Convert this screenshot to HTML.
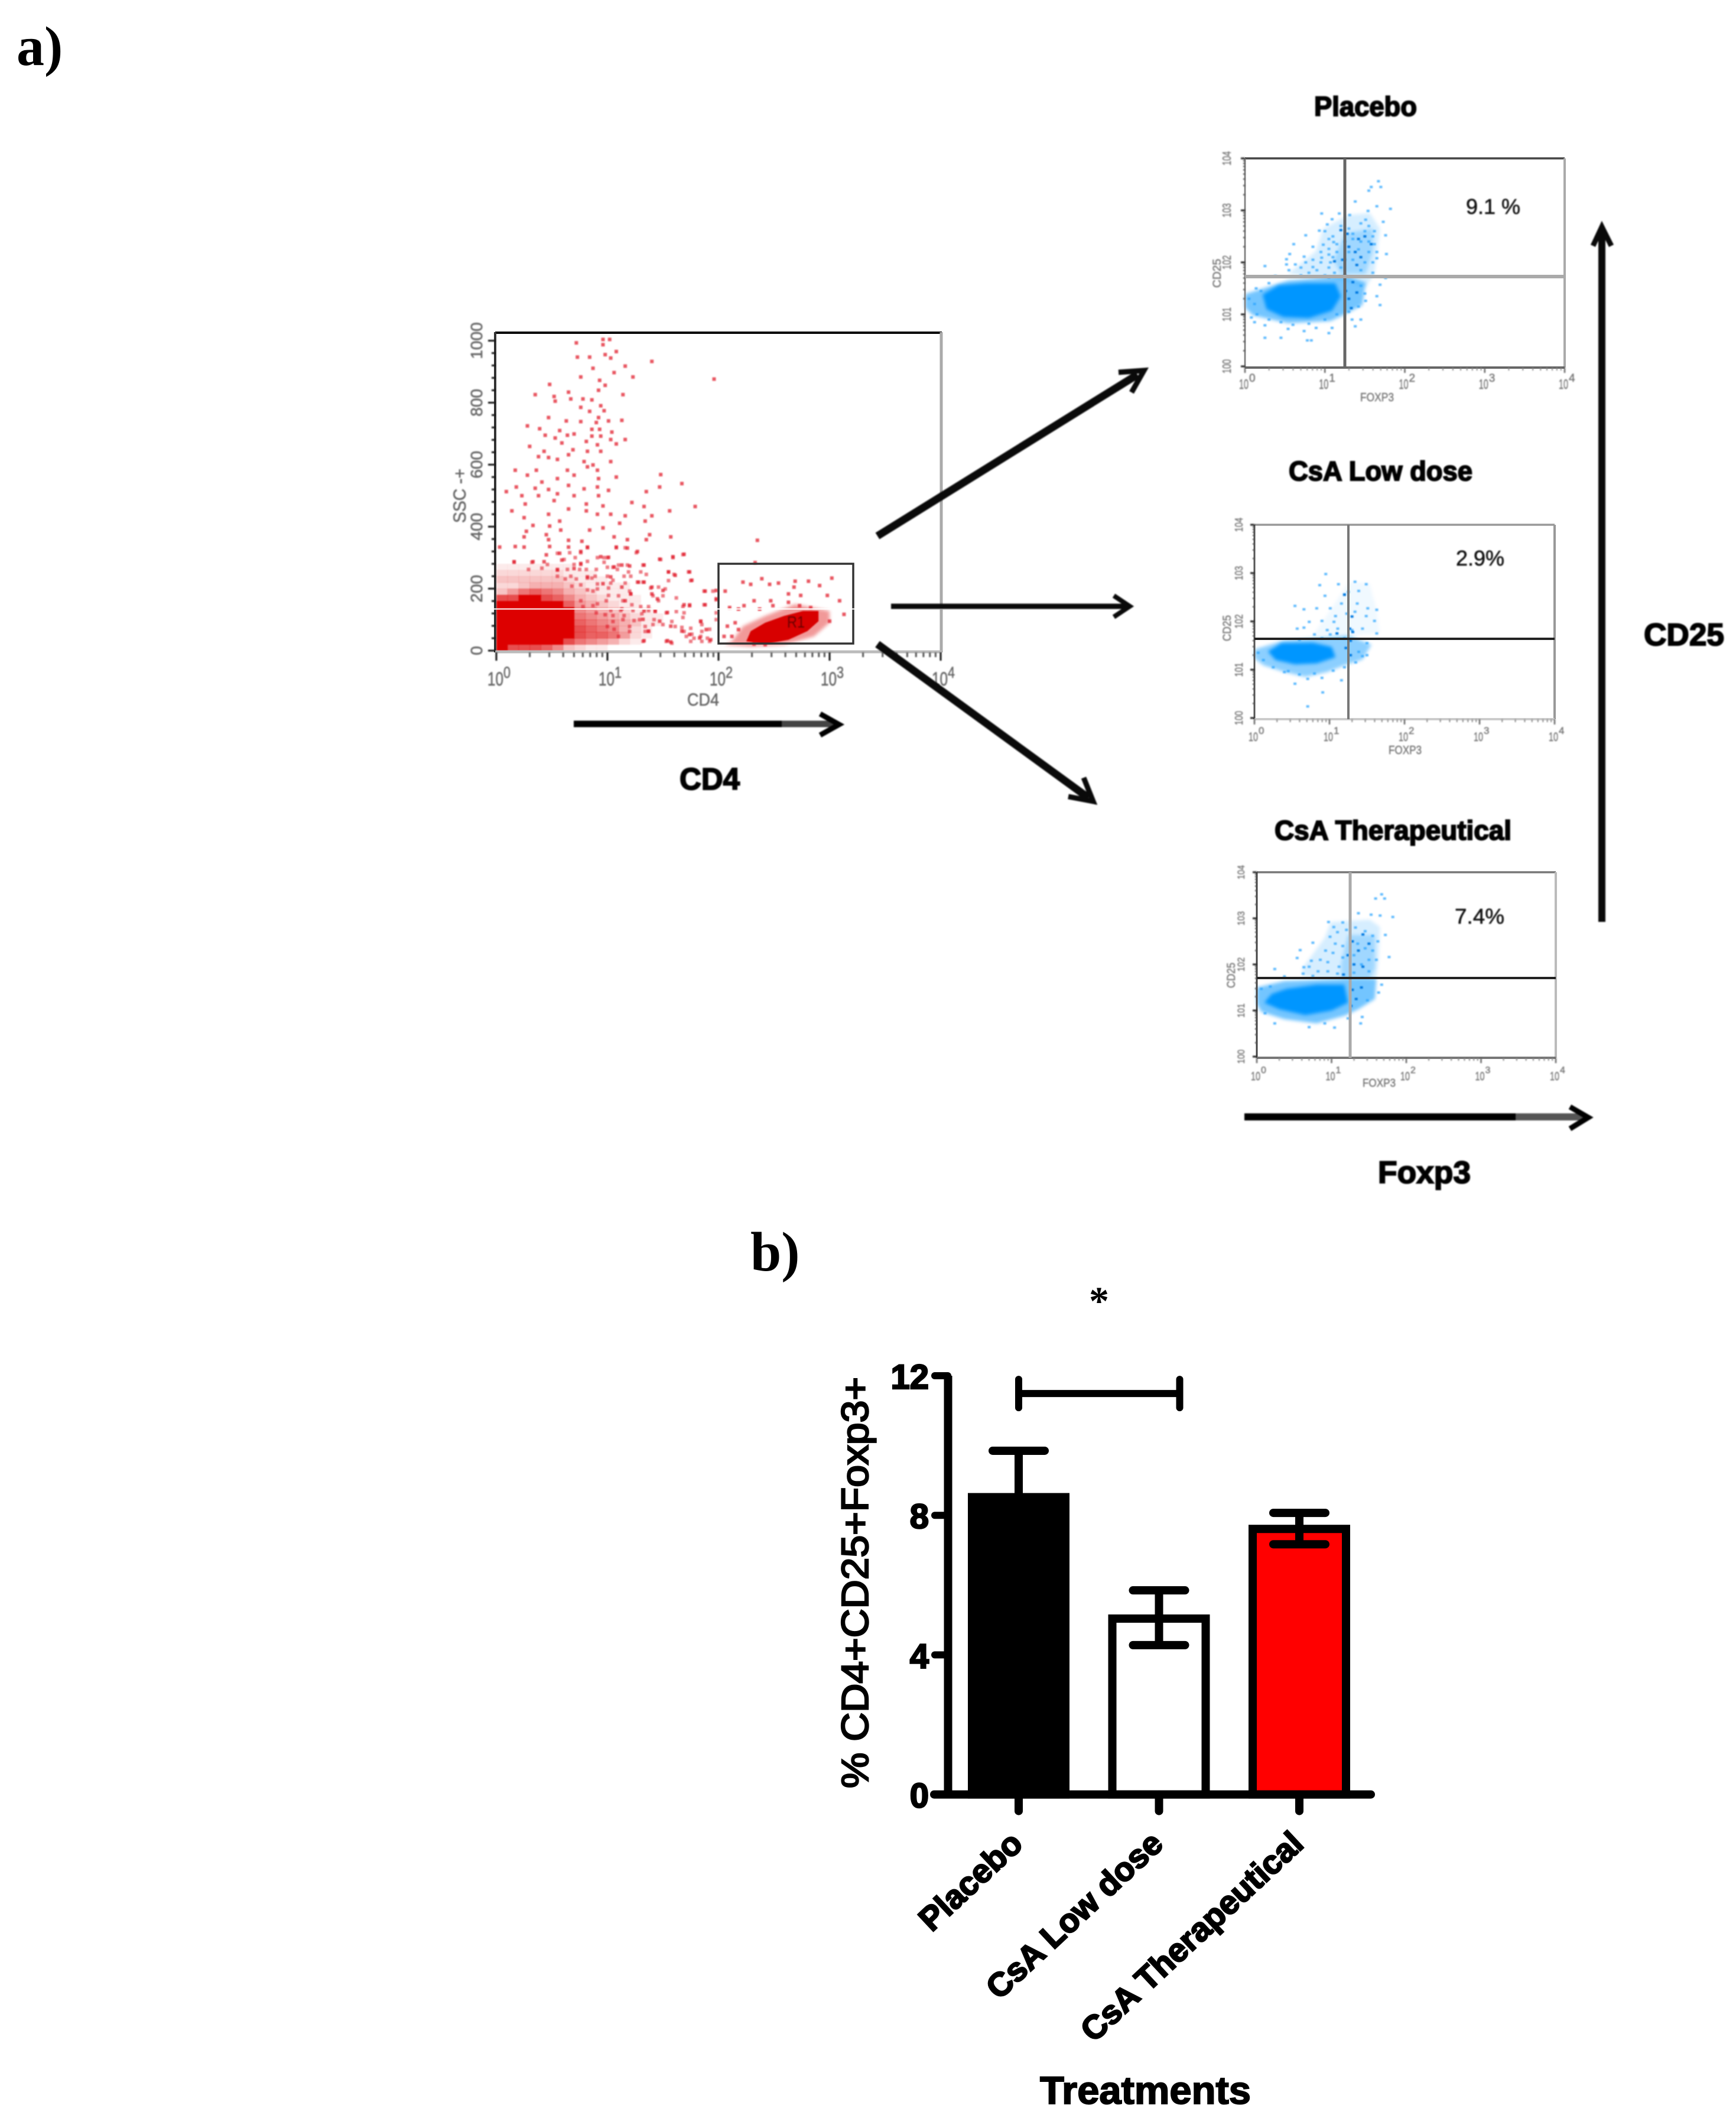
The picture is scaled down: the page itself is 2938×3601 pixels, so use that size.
<!DOCTYPE html>
<html lang="en">
<head>
<meta charset="utf-8">
<title>Treg flow cytometry and bar chart</title>
<style>
html,body{margin:0;padding:0;background:#fff}
svg{display:block}
text{font-family:"Liberation Sans",Arial,sans-serif}
.serif{font-family:"Liberation Serif","Times New Roman",serif;font-weight:700}
.soft{filter:blur(1px)}
.softer{filter:blur(3px)}
</style>
</head>
<body>
<svg id="figure" xmlns="http://www.w3.org/2000/svg" width="2938" height="3601" viewBox="0 0 2938 3601">
  <rect x="0" y="0" width="2938" height="3601" fill="#fff"/>
  <text class="serif" x="28" y="110" font-size="94">a)</text>
  <text class="serif" x="1270" y="2150" font-size="94">b)</text>

  <g id="flow-layer"></g>

  <g class="soft">
    <g fill="none" stroke="#0a0a0a" stroke-width="13">
      <path d="M1485 907L1925 634"/><path d="M1893 630L1936 627L1915 664" stroke-width="9"/>
    </g>
    <g fill="none" stroke="#0a0a0a" stroke-width="9">
      <path d="M1508 1026H1905"/><path d="M1885 1008L1912 1026L1885 1044" stroke-width="8"/>
    </g>
    <g fill="none" stroke="#0a0a0a" stroke-width="13">
      <path d="M1485 1090L1842 1350"/><path d="M1808 1348L1850 1356L1834 1316" stroke-width="9"/>
    </g>
    <g fill="none">
      <path d="M971 1225H1323" stroke="#000" stroke-width="11"/>
      <path d="M1323 1225H1415" stroke="#444" stroke-width="11"/>
      <path d="M1388 1208L1420 1226L1388 1244" stroke="#000" stroke-width="9"/>
    </g>
    <g fill="none">
      <path d="M2106 1890H2565" stroke="#000" stroke-width="12"/>
      <path d="M2565 1890H2680" stroke="#555" stroke-width="12"/>
      <path d="M2657 1873L2688 1891L2657 1910" stroke="#000" stroke-width="9"/>
    </g>
    <g fill="none">
      <path d="M2711 1560V392" stroke="#0a0a0a" stroke-width="12"/>
      <path d="M2696 416L2711 384L2727 416" stroke="#0a0a0a" stroke-width="9"/>
    </g>
  </g>

  <g class="soft" font-weight="700" fill="#000" stroke="#000" stroke-width="2">
    <text x="1150" y="1336" font-size="52" textLength="102" lengthAdjust="spacingAndGlyphs">CD4</text>
    <text x="2224" y="196" font-size="46" textLength="174" lengthAdjust="spacingAndGlyphs">Placebo</text>
    <text x="2181" y="813" font-size="46" textLength="311" lengthAdjust="spacingAndGlyphs">CsA Low dose</text>
    <text x="2157" y="1421" font-size="46" textLength="401" lengthAdjust="spacingAndGlyphs">CsA Therapeutical</text>
    <text x="2332" y="2002" font-size="53" textLength="157" lengthAdjust="spacingAndGlyphs">Foxp3</text>
    <text x="2782" y="1092" font-size="53" textLength="136" lengthAdjust="spacingAndGlyphs">CD25</text>
  </g>

  <g id="bar-layer"></g>
</svg>

<script>
/* ---------- Bar chart data ---------- */
const barCategories = ["Placebo", "CsA Low dose", "CsA Therapeutical"];
const barMeans = [8.52, 5.04, 7.61];
const barErrorHigh = [9.85, 5.85, 8.07];
const barErrorLow = [7.2, 4.28, 7.17];
const barTickValues = [0, 4, 8, 12];
const bracketLevel = [11.49];
const bracketGroups = [0, 1];

/* ---------- Red dot plot data (CD4 decades, SSC units) ---------- */
const cd4TickExponents = ["0", "1", "2", "3", "4"];
const sscTickLabels = [0, 200, 400, 600, 800, 1000];
const ssPercent = ["9.1 %", "2.9%", "7.4%"];

/* Density read per cell: columns 0.1 decade wide, rows 20 SSC tall, top row = 260-280 */
const sscDensityRows = [
  [1,1,1,1,1,1,1,0,0,0,0,0,0,0,0,0],
  [2,2,2,2,2,2,1,1,1,0,0,0,0,0,0,0],
  [3,3,3,3,3,3,2,1,1,1,0,0,0,0,0,0],
  [2,2,3,4,4,4,3,2,1,1,1,1,0,0,0,0],
  [3,5,7,8,7,6,4,3,2,1,1,1,0,0,0,0],
  [9,9,10,10,9,8,6,4,3,2,1,1,1,0,0,0],
  [10,10,10,10,10,10,8,5,4,3,2,1,1,0,0,0],
  [10,10,10,10,10,10,10,6,5,4,3,2,1,1,0,0],
  [10,10,10,10,10,10,10,7,6,5,4,3,2,1,1,0],
  [10,10,10,10,10,10,10,8,7,6,5,4,3,1,1,0],
  [10,10,10,10,10,10,10,9,8,7,6,4,2,1,0,0],
  [10,10,10,10,10,10,10,9,8,8,7,5,2,1,0,0],
  [10,10,10,10,10,10,9,7,6,5,4,2,1,0,0,0],
  [10,9,9,9,8,6,3,2,1,1,0,0,0,0,0,0]
];

const gateCoreOutline = [[2.25,30],[2.29,63],[2.42,90],[2.59,112],[2.76,128],[2.90,128],[2.90,95],[2.80,63],[2.63,35],[2.42,21]];
const gateHaloOutline = [[2.12,30],[2.22,79],[2.42,112],[2.69,150],[3.0,128],[3.0,90],[2.86,46],[2.59,19],[2.29,13],[2.05,19]];

const sscScatterPoints = [
[.72,993],[.96,1004],[1.02,1004],[.96,987],[1.08,965],[1.03,944],[.98,955],[.73,947],[.84,947],[1.40,933],[1.16,918],[.87,911],[1.06,897],[1.23,883],[.76,883],[1.96,876],
[.93,872],[.98,856],[.48,859],[.92,840],[.65,834],[.35,826],[1.14,826],[.52,820],[.53,805],[.67,812],[.78,812],[.86,809],[.76,785],[.94,790],[.97,774],[.84,772],[.47,752],[.92,752],[.63,741],[.90,736],[1.01,741],[1.13,743],[.76,739],[.28,725],[.86,714],[.93,714],[.39,716],[.57,710],[.70,699],[1.04,705],[.44,695],[.53,686],[.64,695],[.86,692],[.94,692],[1.03,681],[1.16,681],[.59,670],[.30,659],[.81,675],[.91,664],[1.08,667],[.43,643],[.69,648],[.82,643],[.94,643],[.38,626],[.55,617],[.65,632],[.47,623],[.79,610],[.87,599],[1.03,610],[.17,582],[.36,582],[.64,582],[.91,582],[.82,593],[.28,566],[.55,555],[.70,566],[1.08,560],[1.48,568],[.41,544],[.92,555],[1.67,539],[.09,513],[.35,524],[.65,533],[.91,528],[1.47,528],[.18,528],[.23,500],[.47,520],[.79,522],[1.01,517],[1.35,513],[.38,500],[.55,506],[.70,500],[.92,500],[.26,473],[.52,484],[.81,473],[.96,467],[1.22,478],[1.79,465],[1.33,465],[.14,451],[.47,440],[.65,457],[.81,451],[1.03,440],[.91,440],[1.56,451],[1.40,435],[.25,429],[.57,418],[1.16,435],[1.34,418],[1.11,411],[.33,404],[.48,402],[.96,396],[.84,389],[.58,389],[.27,385],[.45,374],[.25,367],[1.06,367],[1.38,374],[1.57,367],[.47,358],[.65,356],[.77,353],[1.18,358],[1.35,358],[2.35,356],[.03,334],[.17,336],[.25,334],[.48,336],[.65,334],[.82,334],[1.08,334],[1.18,331],[.57,314],[.45,309],[.76,320],[1.27,320],[1.69,311],[1.59,303],[.94,303],[1.01,301],[1.47,295],[.16,287],[.33,287],[.43,287],[.59,292],[.76,281],[1.33,276],[2.33,284],[.55,260],[.70,265],[1.06,270],[1.13,276],[1.20,273],[1.03,238],[.82,238],[1.55,254],[1.61,243],[1.74,254],[1.76,227],[1.28,221],[1.33,221],[.96,216],[1.13,205],[1.40,205],[1.50,194],[1.21,183],[1.40,183],[1.16,161],[1.45,167],[1.88,192],[1.98,194],[2.06,192],[1.69,148],[1.88,148],[1.98,167],[1.33,128],[1.43,128],[1.54,123],[1.74,145],[1.32,101],[1.47,95],[1.57,79],[1.67,63],[1.74,52],[1.84,95],[1.89,68],[1.37,63],[1.33,32],[1.54,32],[1.57,28],[1.83,41],[1.93,35],
[2.22,221],[2.29,214],[2.39,232],[2.46,214],[2.54,218],[2.69,224],[2.81,224],[2.91,210],[3.02,234],[2.68,205],[2.63,183],[2.47,161],[2.32,161],[2.23,145],[2.74,178],[2.98,178],[3.09,161],[3.13,117],[2.10,139],[2.18,134],[2.37,134],[2.49,145],[2.63,156],[2.73,145],[2.83,139],[2.15,90],[2.18,68],[2.08,79],[2.05,46],[2.12,46],[2.32,21],[2.42,19],[3.0,95]
];

const sscLowSpecklePoints = [
[.16,285],[.32,285],[.55,314],[.66,316],[.76,316],[.82,332],[1.16,332],[1.26,316],[1.08,332],[.91,300],[.97,300],[1.0,300],[.61,294],[.71,300],[.76,278],[.82,288],[.97,285],[.46,278],[.70,278],[1.1,276],[1.18,276],[1.32,276],[1.48,294],[1.59,300],[1.68,310],[1.0,269],[1.05,269],[.55,262],[.41,266],[.29,262],[.64,262],[.90,262],[.81,262],[.75,262],[1.09,262],[1.30,254],[1.19,254],[1.55,254],[1.60,246],[1.73,254],[1.35,246],[1.0,240],[1.05,227],[1.15,240],[1.21,240],[.89,240],[.82,234],[.86,234],[.72,231],[.67,240],[.62,231],[.55,240],[1.27,221],[1.32,221],[1.55,226],[1.75,226],[1.03,218],[1.16,218],[.91,215],[1.01,202],[.76,212],[.68,208],[.82,196],[.87,192],[.91,199],[1.39,202],[1.46,205],[1.52,199],[1.20,192],[1.87,192],[1.95,192],[1.1,177],[1.01,178],[1.21,183],[1.41,177],[1.5,177],[1.62,170],[1.14,161],[1.46,161],[1.98,164],[.99,161],[.91,151],[.76,161],[.87,145],[.78,142],[1.74,148],[1.87,148],[1.68,142],[1.30,142],[1.37,142],[1.22,148],[1.13,135],[1.03,129],[1.12,129],[1.23,129],[1.37,129],[1.43,126],[1.53,122],[1.62,126],[1.69,122],[1.98,122],[1.31,119],[.90,122],[.98,116],[1.05,113],[1.15,113],[1.29,100],[1.24,97],[1.42,100],[1.68,107],[1.58,94],[1.84,94],[1.98,100],[1.05,94],[1.14,100],[1.5,84],[1.41,84],[1.85,84],[1.0,78],[1.06,69],[1.2,78],[1.34,78],[1.61,78],[1.67,75],[1.75,72],[1.92,69],[1.85,62],[1.69,62],[1.34,62],[1.37,62],[1.1,46],[1.2,62],[1.76,53],[1.71,46],[1.84,46],[1.9,40],[1.78,40],[1.75,30],[1.32,30],[1.53,30],[1.58,24],[1.85,30],[1.92,30]
];

/* ---------- Blue dot plot data (FOXP3 decade, CD25 decade) ---------- */
const placeboCore = [[.22,1.38],[.42,1.56],[.76,1.6],[1.13,1.6],[1.2,1.35],[1.09,1.07],[.80,.93],[.48,.95],[.27,1.1]];
const placeboLowerHalo = [[0,1.39],[.27,1.52],[.54,1.65],[1.25,1.74],[1.51,1.61],[1.47,1.18],[1.25,1.0],[1.07,.87],[.54,.83],[.10,.98],[0,1.13]];
const placeboWing = [[.54,1.78],[.89,2.22],[.98,2.65],[1.29,2.91],[1.56,2.95],[1.69,2.65],[1.62,1.78],[1.51,1.52],[1.25,1.65]];
const placeboInnerWing = [[1.11,2.04],[1.25,2.56],[1.60,2.65],[1.60,2.22],[1.51,1.78],[1.20,1.78]];
const placeboPoints = [
[1.67,3.56],[1.58,3.45],[1.70,3.45],[1.55,3.38],[1.38,3.17],[1.82,3.03],[1.65,3.08],[1.54,2.99],[.96,2.94],[1.18,2.94],[1.31,2.91],[1.73,2.78],[1.51,2.82],[1.09,2.83],[1.03,2.73],[.93,2.61],[.76,2.52],[1.76,2.52],[.61,2.35],[.85,2.30],[1.77,2.16],[.56,2.16],[.74,2.11],[.52,2.06],[1.65,2.08],[.52,1.96],[.25,1.93],[.63,1.96],[.76,2.0],[.98,2.34],[1.11,2.39],[1.05,2.26],[.96,2.09],[.85,1.91],[1.07,2.0],[1.76,1.70],[1.69,1.57],[1.65,1.35],[1.69,1.18],[1.51,1.26],[1.38,.77],[1.45,.90],[1.34,.90],[1.09,.74],[1.05,.64],[.89,.74],[.74,.68],[.54,.72],[.45,.55],[.25,.79],[.25,.55],[.12,.85],[.83,.50],[.78,.50],[.08,.94],[.14,1.5],[.38,1.74],
[1.0,2.6],[1.1,2.5],[1.05,2.45],[1.2,2.7],[1.3,2.65],[1.45,2.75],[1.55,2.7],[1.62,2.6],[1.35,2.55],[1.5,2.6],[1.6,2.5],[1.15,2.35],[1.25,2.4],[1.35,2.45],[1.45,2.4],[1.55,2.4],[1.62,2.35],[.95,2.2],[1.05,2.15],[1.15,2.2],[1.3,2.2],[1.42,2.25],[1.55,2.2],[1.65,2.2],[.85,2.05],[.95,2.0],[1.1,2.1],[1.25,2.05],[1.35,2.05],[1.5,2.0],[1.6,2.0],[.7,1.9],[.9,1.85],[1.05,1.9],[1.2,1.9],[1.45,1.85],[1.6,1.8],[.55,1.85],[.7,1.75],[.8,1.8],[1.0,1.75],[1.12,1.8],[.05,1.3],[.12,1.2],[.2,1.45],[.3,1.6],[.15,1.0],[.3,.9],[.45,.85],[.6,.8],[.8,.82],[1.0,.9],[1.15,1.0],[1.3,1.05],[1.42,1.15],[1.5,1.4],[1.45,1.55]
];
const placeboDarkPoints = [[1.28,2.55],[1.42,2.45],[1.30,2.30],[1.50,2.50],[1.38,2.20],[1.22,2.05],[1.12,2.02],[1.40,1.95],[1.25,1.75],[1.05,1.72],[1.35,1.62],[1.30,1.30],[1.33,1.12],[1.26,1.45],[1.40,1.42],[1.45,2.10],[1.20,2.62],[1.58,2.35]];

const lowCore = [[.18,1.38],[.36,1.55],[.78,1.56],[1.03,1.47],[1.08,1.26],[.83,1.13],[.54,1.11],[.28,1.2]];
const lowHalo = [[0,1.42],[.40,1.61],[1.25,1.71],[1.56,1.52],[1.44,1.21],[1.20,1.09],[.97,.95],[.68,.85],[.40,.95],[.12,1.09],[0,1.23]];
const lowWing = [[.78,1.71],[1.01,2.23],[1.25,2.80],[1.53,2.80],[1.63,2.23],[1.67,1.75],[1.25,1.71]];
const lowPoints = [
[.95,2.98],[1.49,2.77],[1.12,2.77],[.87,2.75],[1.34,2.82],[1.39,2.63],[1.20,2.56],[.94,2.53],[1.25,2.61],[.54,2.32],[.66,2.25],[.83,2.27],[1.01,2.27],[1.16,2.37],[1.37,2.37],[1.51,2.27],[1.63,2.24],[1.34,2.20],[1.08,2.11],[1.23,2.16],[1.49,2.11],[.90,2.01],[1.06,1.99],[.73,1.99],[1.60,2.01],[.66,1.87],[.57,1.85],[.97,1.82],[1.11,1.85],[1.30,1.82],[1.44,1.85],[1.63,1.75],[.80,1.73],[1.01,1.73],[1.44,1.28],[1.39,1.37],[.54,.71],[.71,.81],[.90,.83],[1.16,.78],[.91,.53],[.71,.24],[.45,.97],
[.05,1.35],[.12,1.2],[.25,1.05],[.4,.95],[.6,.9],[.8,.92],[1.05,.98],[1.2,1.05],[1.35,1.15],[1.5,1.3],[1.5,1.55],[1.2,1.65],[.9,1.65],[.6,1.62]
];
const lowDarkPoints = [[1.27,1.85],[1.31,1.78],[1.10,1.75],[1.28,1.6],[1.22,1.45],[1.28,1.3],[1.20,2.55],[1.30,2.1]];

const theraCore = [[.2,1.36],[.4,1.47],[.80,1.56],[1.17,1.56],[1.22,1.17],[1.0,1.0],[.65,.9],[.3,1.03],[.1,1.17]];
const theraLowerHalo = [[0,1.50],[.37,1.64],[1.22,1.69],[1.60,1.69],[1.58,1.25],[1.36,1.03],[1.18,.89],[.80,.72],[.37,.81],[.06,.97],[0,1.14]];
const theraWing = [[.61,1.92],[.91,2.58],[.99,2.92],[1.51,2.97],[1.65,2.81],[1.63,2.14],[1.60,1.69],[.89,1.69],[.61,1.75]];
const theraInnerWing = [[1.13,2.03],[1.22,2.64],[1.58,2.64],[1.58,1.92],[1.51,1.69],[1.13,1.69]];
const theraPoints = [
[1.67,3.52],[1.59,3.43],[1.71,3.43],[1.82,3.03],[1.65,3.06],[.96,2.92],[1.15,2.91],[1.36,3.11],[1.53,3.08],[1.03,2.81],[1.72,2.64],[.75,2.47],[1.77,2.16],[.58,2.31],[.54,2.14],[.73,2.08],[.63,1.94],[.24,1.90],[.37,1.74],[1.67,1.56],[1.63,1.39],[1.48,1.22],[1.41,.86],[1.39,.72],[1.22,.83],[1.04,.63],[.70,.64],[.91,.72],[.24,.72],[.11,.94],[.06,1.47],[.18,1.52],
[.98,2.6],[1.08,2.7],[1.2,2.75],[1.32,2.8],[1.45,2.72],[1.55,2.62],[1.62,2.5],[1.05,2.45],[1.15,2.4],[1.35,2.45],[1.45,2.35],[1.55,2.3],[.92,2.3],[1.02,2.25],[1.15,2.15],[1.3,2.2],[1.5,2.1],[1.6,2.1],[.85,2.1],[.95,2.05],[1.1,1.95],[1.4,2.0],[.7,1.95],[.82,1.85],[.95,1.85],[1.08,1.8],[1.3,1.82],[1.5,1.85],[.62,1.8],[.75,1.75]
];
const theraDarkPoints = [[1.28,2.5],[1.42,2.65],[1.36,2.3],[1.50,2.45],[1.22,2.2],[1.30,2.0],[1.42,1.95],[1.28,1.45],[1.33,1.25],[1.26,1.1],[1.40,1.5],[1.16,1.78]];

/* ---------- Helpers ---------- */
const NS = "http://www.w3.org/2000/svg";
function make(tag, parent, attrs) {
  const node = document.createElementNS(NS, tag);
  for (const key in attrs) node.setAttribute(key, attrs[key]);
  parent.appendChild(node);
  return node;
}
function outlinePath(outline, xFn, yFn) {
  return "M" + outline.map(p => xFn(p[0]).toFixed(1) + " " + yFn(p[1]).toFixed(1)).join("L") + "Z";
}

/* ---------- Red SSC / CD4 dot plot ---------- */
(function drawRedPlot() {
  const flowLayer = document.getElementById("flow-layer");
  const plot = make("g", flowLayer, {});
  
  
  const xAt = d => 840 + 188 * d;
  const yAt = v => 1101 - 0.5245 * v;

  const marks = make("g", plot, {class: "soft"});
  
  

  sscDensityRows.forEach((row, r) => {
    row.forEach((value, c) => {
      if (!value) return;
      const top = 280 - r * 20;
      const cell = make("rect", marks, {
        x: xAt(c * 0.1).toFixed(1), y: yAt(top).toFixed(1),
        width: (xAt(0.1) - xAt(0) + 0.5).toFixed(1),
        height: (yAt(0) - yAt(20) + 0.5).toFixed(1),
        fill: "#dd0000", opacity: value >= 10 ? 1 : value / 13
      });
      
      
    });
  });
  const halo = make("path", marks, {d: outlinePath(gateHaloOutline, xAt, yAt), fill: "#dd0000", opacity: .4, class: "softer"});
  
  
  const core = make("path", marks, {d: outlinePath(gateCoreOutline, xAt, yAt), fill: "#d80000"});
  
  
  sscLowSpecklePoints.forEach(p => {
    const dot = make("rect", marks, {x: (xAt(p[0]) - 3).toFixed(1), y: (yAt(p[1]) - 3).toFixed(1), width: 6, height: 6, fill: "#e01020", opacity: .55});
    
    
  });
  sscScatterPoints.forEach(p => {
    const dot = make("rect", marks, {x: (xAt(p[0]) - 3).toFixed(1), y: (yAt(p[1]) - 3).toFixed(1), width: 6, height: 6, fill: "#e01020", opacity: .7});
    
    
  });

  const frame = make("g", plot, {fill: "none"});
  
  
  make("path", frame, {d: "M838 563H1594", stroke: "#000", "stroke-width": 4});
  make("path", frame, {d: "M838 562V1104", stroke: "#333", "stroke-width": 4});
  make("path", frame, {d: "M1593 562V1104", stroke: "#aaa", "stroke-width": 5});
  make("path", frame, {d: "M838 1103H1594", stroke: "#bbb", "stroke-width": 5});

  const ticks = make("g", plot, {stroke: "#111", class: "soft"});
  
  
  for (let v = 0; v <= 1000; v += 40) {
    const major = v % 200 === 0;
    make("line", ticks, {x1: major ? 826 : 832, x2: 838, y1: yAt(v), y2: yAt(v), "stroke-width": 3});
  }
  cd4TickExponents.forEach((exp, d) => {
    make("line", ticks, {x1: xAt(d), x2: xAt(d), y1: 1104, y2: 1118, "stroke-width": 3});
    if (d < 4) {
      for (let m = 2; m < 10; m++) {
        const lx = xAt(d + Math.log10(m));
        make("line", ticks, {x1: lx, x2: lx, y1: 1104, y2: 1112, stroke: "#555", "stroke-width": 3});
      }
    }
  });

  const labels = make("g", plot, {fill: "#666", stroke: "#666", "stroke-width": .6, class: "soft"});
  
  
  cd4TickExponents.forEach((exp, d) => {
    const base = make("text", labels, {x: xAt(d) - 15, y: 1160, "font-size": 32, textLength: 27, lengthAdjust: "spacingAndGlyphs"});
    
    
    base.textContent = "10";
    const sup = make("text", labels, {x: xAt(d) + 12, y: 1147, "font-size": 27, textLength: 12, lengthAdjust: "spacingAndGlyphs"});
    
    
    sup.textContent = exp;
  });
  sscTickLabels.forEach(v => {
    const t = make("text", labels, {"font-size": 28, "text-anchor": "middle", transform: `translate(816 ${yAt(v)}) rotate(-90)`});
    
    
    t.textContent = v;
  });
  const xTitle = make("text", labels, {x: 1163, y: 1194, "font-size": 30, textLength: 54, lengthAdjust: "spacingAndGlyphs"});
  
  
  xTitle.textContent = "CD4";
  const yTitle = make("text", labels, {"font-size": 30, transform: "translate(788 885) rotate(-90)", textLength: 92, lengthAdjust: "spacingAndGlyphs"});
  
  
  yTitle.textContent = "SSC -+";

  const gate = make("rect", plot, {x: 1216, y: 954, width: 228, height: 135, fill: "none", stroke: "#333", "stroke-width": 3.5});
  
  
  const gateLabel = make("text", plot, {x: 1332, y: 1062, "font-size": 28, fill: "#6a0000", class: "soft", textLength: 30, lengthAdjust: "spacingAndGlyphs"});
  
  
  gateLabel.textContent = "R1";
  const hairline = make("line", plot, {x1: 834, x2: 1600, y1: 1030.5, y2: 1030.5, stroke: "#fff", "stroke-width": 2});
  
  
})();

/* ---------- Blue quadrant plots ---------- */
const bluePanels = [
  {name: "placebo", left: 2107, right: 2648, top: 268, bottom: 622, vx: 2276, hy: 468,
   core: placeboCore, halos: [[placeboLowerHalo, .55], [placeboWing, .16], [placeboInnerWing, .25]], points: placeboPoints, dark: placeboDarkPoints,
   pct: 0, pctX: 2481, pctW: 92, pctY: 362, pctSize: 36, frame: ["#444", "#888", "#aaa", "#666"], v: ["#666", 5], h: ["#aaa", 6],
   tickY: 652, titleX: 2302, titleY: 679, titleW: 57, titleSize: 20, ytitle: "CD25", yTitleX: 2066, yTitleY: 487, yTitleH: 49, tickSize: 23, yLabelX: 2083},
  {name: "low-dose", left: 2123, right: 2631, top: 888, bottom: 1217, vx: 2282, hy: 1081,
   core: lowCore, halos: [[lowHalo, .45], [lowWing, .06]], points: lowPoints, dark: lowDarkPoints,
   pct: 1, pctX: 2464, pctW: 82, pctY: 957, pctSize: 36, frame: ["#999", "#555", "#999", "#ccc"], v: ["#777", 4], h: ["#222", 4],
   tickY: 1248, titleX: 2350, titleY: 1276, titleW: 56, titleSize: 20, ytitle: "CD25", yTitleX: 2083, yTitleY: 1085, yTitleH: 44, tickSize: 21, yLabelX: 2103},
  {name: "therapeutical", left: 2127, right: 2633, top: 1476, bottom: 1790, vx: 2285, hy: 1655,
   core: theraCore, halos: [[theraLowerHalo, .55], [theraWing, .16], [theraInnerWing, .25]], points: theraPoints, dark: theraDarkPoints,
   pct: 2, pctX: 2462, pctW: 84, pctY: 1563, pctSize: 36, frame: ["#777", "#444", "#bbb", "#777"], v: ["#aaa", 5], h: ["#222", 4],
   tickY: 1822, titleX: 2306, titleY: 1839, titleW: 56, titleSize: 19, ytitle: "CD25", yTitleX: 2090, yTitleY: 1672, yTitleH: 43, tickSize: 20, yLabelX: 2106}
];
const blueDecades = ["0", "1", "2", "3", "4"];

bluePanels.forEach(panel => {
  const flowLayer = document.getElementById("flow-layer");
  const plot = make("g", flowLayer, {});
  
  
  const xAt = d => panel.left + d * (panel.right - panel.left) / 4;
  const yAt = d => panel.bottom - 2 - d * (panel.bottom - 2 - panel.top) / 4;

  const marks = make("g", plot, {class: "soft"});
  
  
  panel.halos.forEach(item => {
    const h = make("path", marks, {d: outlinePath(item[0], xAt, yAt), fill: "#0096ff", opacity: item[1], class: "softer"});
    
    
  });
  const core = make("path", marks, {d: outlinePath(panel.core, xAt, yAt), fill: "#0096ff", class: "softer"});
  
  
  panel.points.forEach(p => {
    const dot = make("rect", marks, {x: (xAt(p[0]) - 2.5).toFixed(1), y: (yAt(p[1]) - 2).toFixed(1), width: 5, height: 4, fill: "#2aa4ff", opacity: .75});
    
    
  });
  panel.dark.forEach(p => {
    const dot = make("rect", marks, {x: (xAt(p[0]) - 2.5).toFixed(1), y: (yAt(p[1]) - 2).toFixed(1), width: 5, height: 4, fill: "#0078e0"});
    
    
  });

  const frame = make("g", plot, {fill: "none"});
  
  
  make("line", frame, {x1: panel.left, x2: panel.right, y1: panel.top, y2: panel.top, stroke: panel.frame[0], "stroke-width": 3.5});
  make("line", frame, {x1: panel.left, x2: panel.left, y1: panel.top, y2: panel.bottom, stroke: panel.frame[1], "stroke-width": 3});
  make("line", frame, {x1: panel.right, x2: panel.right, y1: panel.top, y2: panel.bottom, stroke: panel.frame[2], "stroke-width": 4});
  make("line", frame, {x1: panel.left, x2: panel.right, y1: panel.bottom, y2: panel.bottom, stroke: panel.frame[3], "stroke-width": 4});

  const vLine = make("line", plot, {x1: panel.vx, x2: panel.vx, y1: panel.top, y2: panel.bottom, stroke: panel.v[0], "stroke-width": panel.v[1]});
  
  
  const hLine = make("line", plot, {x1: panel.left, x2: panel.right, y1: panel.hy, y2: panel.hy, stroke: panel.h[0], "stroke-width": panel.h[1]});
  
  

  const ticks = make("g", plot, {class: "soft"});
  
  
  blueDecades.forEach((exp, d) => {
    make("line", ticks, {x1: xAt(d), x2: xAt(d), y1: panel.bottom, y2: panel.bottom + 9, stroke: "#666", "stroke-width": 2.5});
    make("line", ticks, {x1: panel.left - 7, x2: panel.left, y1: yAt(d), y2: yAt(d), stroke: "#222", "stroke-width": 3});
    if (d < 4) {
      for (let m = 2; m < 10; m++) {
        const lx = xAt(d + Math.log10(m));
        const ly = yAt(d + Math.log10(m));
        make("line", ticks, {x1: lx, x2: lx, y1: panel.bottom, y2: panel.bottom + 5, stroke: "#888", "stroke-width": 2});
        make("line", ticks, {x1: panel.left - 3, x2: panel.left, y1: ly, y2: ly, stroke: "#555", "stroke-width": 2.5});
      }
    }
  });

  const labels = make("g", plot, {fill: "#777", stroke: "#777", "stroke-width": .5, class: "soft"});
  
  
  blueDecades.forEach((exp, d) => {
    const base = make("text", labels, {x: xAt(d) - 10, y: panel.tickY + 6, "font-size": panel.tickSize, textLength: 16, lengthAdjust: "spacingAndGlyphs"});
    
    
    base.textContent = "10";
    const sup = make("text", labels, {x: xAt(d) + 7, y: panel.tickY - 6, "font-size": panel.tickSize - 4});
    
    
    sup.textContent = exp;
    const yt = make("text", labels, {"font-size": panel.tickSize - 3, "text-anchor": "middle", transform: `translate(${panel.yLabelX} ${yAt(d)}) rotate(-90)`, textLength: 24, lengthAdjust: "spacingAndGlyphs"});
    
    
    yt.textContent = "10" + exp;
  });
  const xTitle = make("text", labels, {x: panel.titleX, y: panel.titleY, "font-size": panel.titleSize, textLength: panel.titleW, lengthAdjust: "spacingAndGlyphs"});
  
  
  xTitle.textContent = "FOXP3";
  const yTitle = make("text", labels, {"font-size": 19, transform: `translate(${panel.yTitleX} ${panel.yTitleY}) rotate(-90)`, textLength: panel.yTitleH, lengthAdjust: "spacingAndGlyphs"});
  
  
  yTitle.textContent = panel.ytitle;

  const pct = make("text", plot, {x: panel.pctX, y: panel.pctY, "font-size": panel.pctSize, fill: "#111", stroke: "#111", "stroke-width": .6, class: "soft", textLength: panel.pctW, lengthAdjust: "spacingAndGlyphs"});
  
  
  pct.textContent = ssPercent[panel.pct];
});

/* ---------- Bar chart ---------- */
(function drawBars() {
  const layer = document.getElementById("bar-layer");
  const yAt = v => 3036.6 - 59.05 * v;
  const xAt = i => 1724 + 237.5 * i;
  const barFills = ["#000000", "#ffffff", "#ff0000"];
  const halfBar = 79;
  const capHalf = 44;
  const lineWeight = 14;

  barCategories.forEach((name, i) => {
    const bar = make("rect", layer, {x: xAt(i) - halfBar, y: yAt(barMeans[i]), width: halfBar * 2, height: yAt(0) - yAt(barMeans[i]), fill: barFills[i], stroke: "#000", "stroke-width": lineWeight});
    
    
  });
  barCategories.forEach((name, i) => {
    const err = make("path", layer, {
      d: `M${xAt(i)} ${yAt(barErrorHigh[i])}V${yAt(barErrorLow[i])}M${xAt(i) - capHalf} ${yAt(barErrorHigh[i])}H${xAt(i) + capHalf}M${xAt(i) - capHalf} ${yAt(barErrorLow[i])}H${xAt(i) + capHalf}`,
      fill: "none", stroke: "#000", "stroke-width": lineWeight, "stroke-linecap": "round"
    });
    
    
  });

  const yAxis = make("path", layer, {d: `M1604.5 ${yAt(0)}V${yAt(12)}`, fill: "none", stroke: "#000", "stroke-width": lineWeight});
  
  
  const xAxis = make("path", layer, {d: `M1581 ${yAt(0)}H2320`, fill: "none", stroke: "#000", "stroke-width": lineWeight, "stroke-linecap": "round"});
  
  

  barTickValues.forEach(v => {
    const tick = make("line", layer, {x1: 1582, x2: 1604, y1: yAt(v), y2: yAt(v), stroke: "#000", "stroke-width": 12, "stroke-linecap": "round"});
    
    
    const label = make("text", layer, {x: 1572, y: yAt(v) + 22, "font-size": 58, "font-weight": 700, "text-anchor": "end", stroke: "#000", "stroke-width": 2.5});
    
    
    label.textContent = v;
  });

  barCategories.forEach((name, i) => {
    const tick = make("line", layer, {x1: xAt(i), x2: xAt(i), y1: yAt(0), y2: yAt(0) + 28, stroke: "#000", "stroke-width": lineWeight, "stroke-linecap": "round"});
    
    
    const label = make("text", layer, {"font-size": 56, "font-weight": 700, "text-anchor": "end", stroke: "#000", "stroke-width": 2.5, transform: `translate(${xAt(i) + 10} 3124) rotate(-43)`});
    
    
    label.textContent = name;
  });

  const by = yAt(bracketLevel[0]);
  const bx0 = xAt(bracketGroups[0]);
  const bx1 = xAt(bracketGroups[1]) + 35;
  const bracket = make("path", layer, {d: `M${bx0} ${by - 24}V${by + 24}M${bx0} ${by}H${bx1}M${bx1} ${by - 24}V${by + 24}`, fill: "none", stroke: "#000", "stroke-width": 12, "stroke-linecap": "round"});
  
  

  const star = make("text", layer, {x: 1860, y: 2224, "font-size": 68, "font-weight": 700, "text-anchor": "middle"});
  
  
  star.setAttribute("class", "serif");
  star.textContent = "*";

  const yTitle = make("text", layer, {"font-size": 64, transform: "translate(1469 3026) rotate(-90)", stroke: "#000", "stroke-width": 2.5, textLength: 696, lengthAdjust: "spacingAndGlyphs"});
  
  
  yTitle.textContent = "% CD4+CD25+Foxp3+";

  const xTitle = make("text", layer, {x: 1760, y: 3560, "font-size": 66, "font-weight": 700, stroke: "#000", "stroke-width": 2, textLength: 357, lengthAdjust: "spacingAndGlyphs"});
  
  
  xTitle.textContent = "Treatments";
})();
</script>
</body>
</html>
